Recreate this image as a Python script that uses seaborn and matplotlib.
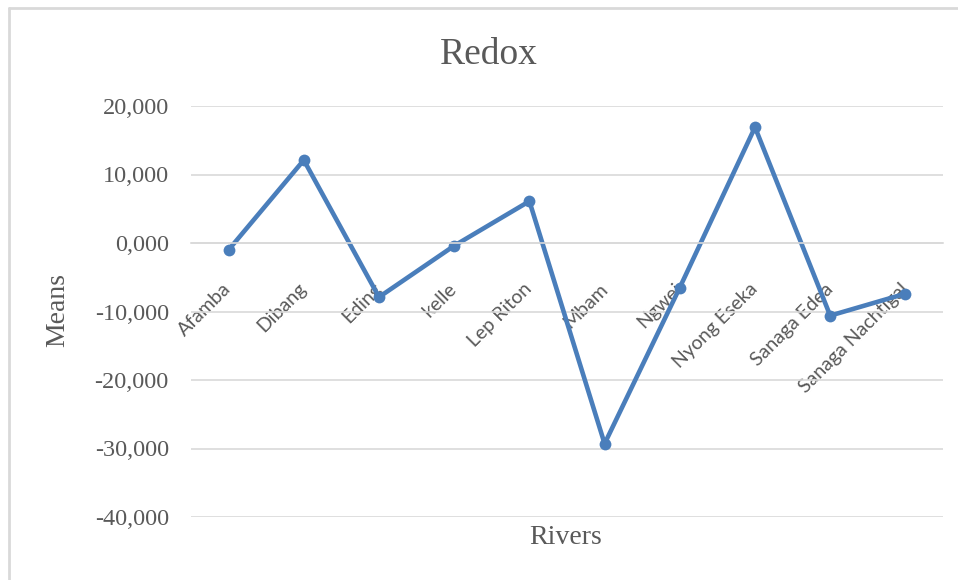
import pandas as pd
import matplotlib.pyplot as plt
import matplotlib.ticker as mticker
from matplotlib.lines import Line2D
import seaborn as sns

###############################################################################

rivers = ['Afamba', 'Dibang', 'Eding', 'kelle', 'Lep Riton', 'Mbam',
          'Ngwei', 'Nyong Eseka', 'Sanaga Edea', 'Sanaga Nachtigal']
means = [-1.0, 12.1, -7.9, -0.4, 6.1, -29.3, -6.5, 16.9, -10.6, -7.4]
y_ticks = [-40, -30, -20, -10, 0, 10, 20]

LINE_COLOR = '#4a7ebb'
GRID_COLOR = '#d9d9d9'
TEXT_COLOR = '#595959'
SERIF = 'Liberation Serif'
SANS = 'Lato'

###############################################################################

def comma_decimal(value, pos):
    return f'{value:.3f}'.replace('.', ',')

def plot_redox(file_name: str):
    sns.set_theme(style='white')
    plt.rcParams['font.family'] = [SERIF, 'DejaVu Serif']

    df = pd.DataFrame({'River': rivers, 'Mean': means})

    fig = plt.figure(figsize=(9.58, 5.8), dpi=100)
    ax = fig.add_axes([191 / 958, 1 - 517 / 580, 752 / 958, 411 / 580])

    sns.lineplot(
        x='River',
        y='Mean',
        data=df,
        sort=False,
        color=LINE_COLOR,
        linewidth=3.3,
        marker='o',
        markersize=8.5,
        markeredgewidth=0,
        ax=ax)

    ax.set_xlim(-0.5, len(rivers) - 0.5)
    ax.set_ylim(-40, 20)
    ax.set_yticks(y_ticks)
    ax.yaxis.set_major_formatter(mticker.FuncFormatter(comma_decimal))
    ax.yaxis.grid(True, color=GRID_COLOR, linewidth=1.2)
    ax.set_axisbelow(True)

    for side in ['left', 'right', 'top']:
        ax.spines[side].set_visible(False)
    ax.spines['bottom'].set_position(('data', 0))
    ax.spines['bottom'].set_color(GRID_COLOR)
    ax.spines['bottom'].set_linewidth(1.2)

    ax.set_xticks(range(len(rivers)))
    ax.set_xticklabels(rivers, rotation=45, ha='right', va='center',
                       rotation_mode='anchor', family=SANS, fontsize=14,
                       color=TEXT_COLOR)
    ax.tick_params(axis='x', length=0, pad=31)
    ax.tick_params(axis='y', length=0, pad=16, labelsize=17.5,
                   labelcolor=TEXT_COLOR)
    ax.set_xlabel('')
    ax.set_ylabel('')

    fig.text(489 / 958, 1 - 55 / 580, 'Redox', ha='center', va='center',
             fontsize=27, color=TEXT_COLOR)
    fig.text(58 / 958, 1 - 310 / 580, 'Means', ha='center', va='center',
             rotation=90, fontsize=20, color=TEXT_COLOR)
    fig.text(566 / 958, 1 - 537 / 580, 'Rivers', ha='center', va='center',
             fontsize=20, color=TEXT_COLOR)

    # chart frame (only top and left edges are visible in the crop)
    fig.add_artist(Line2D([9 / 958, 9 / 958], [0, 1 - 8 / 580],
                          transform=fig.transFigure, color=GRID_COLOR, lw=2))
    fig.add_artist(Line2D([9 / 958, 1], [1 - 8 / 580, 1 - 8 / 580],
                          transform=fig.transFigure, color=GRID_COLOR, lw=2))

    fig.savefig(file_name, dpi=100)
    plt.close(fig)

###############################################################################

plot_redox('out.png')
